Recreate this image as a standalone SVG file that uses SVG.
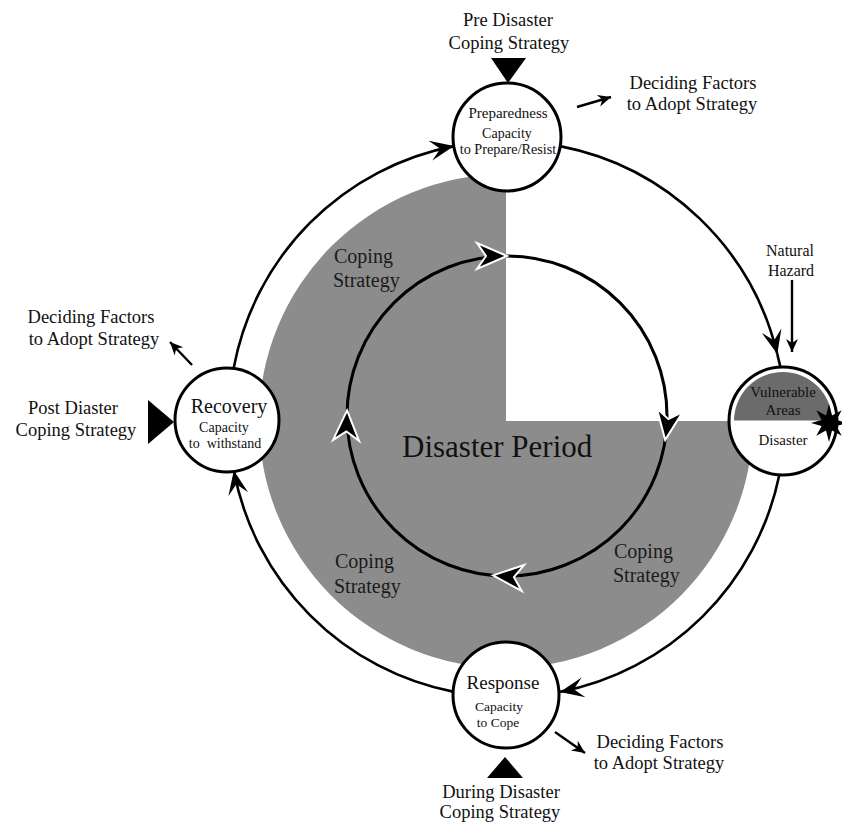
<svg xmlns="http://www.w3.org/2000/svg" xmlns:xlink="http://www.w3.org/1999/xlink" width="842" height="824" viewBox="0 0 842 824">
<style>
  text { font-family: "Liberation Serif", "Times New Roman", serif; fill: #111; }
  .lbl { font-size: 18.5px; text-anchor: middle; }
  .cope { font-size: 20px; fill: #1a1a1a; }
  .ring { fill: none; stroke: #000; stroke-width: 2.6; }
  .thin { fill: none; stroke: #000; stroke-width: 2.4; }
  .node { fill: #fff; stroke: #000; stroke-width: 3; }
  .tri { fill: #000; }
  .mid { text-anchor: middle; }
</style>
<defs>
  <marker id="big" markerUnits="userSpaceOnUse" viewBox="-26 -12 28 24" refX="0" refY="0" markerWidth="28" markerHeight="24" orient="auto" overflow="visible">
    <path d="M0,0 L-24,-10 L-14,0 L-24,10 Z" fill="#000"/>
  </marker>
  <marker id="small" markerUnits="userSpaceOnUse" viewBox="-14 -7 16 14" refX="0" refY="0" markerWidth="16" markerHeight="14" orient="auto" overflow="visible">
    <path d="M0,0 L-13,-6 L-9,0 L-13,6 Z" fill="#000"/>
  </marker>
  <path id="ia" d="M0,0 L-30,-13 L-21,0 L-30,13 Z" fill="#000" stroke="#fff" stroke-width="2" stroke-linejoin="miter"/>
</defs>

<!-- shaded disaster period region -->
<path id="period-shade" d="M506,421 L506,174 A247,247 0 1,0 753,421 Z" fill="#8c8c8c"/>

<g id="connectors">
  <path class="ring" d="M560,146.1 A278,278 0 0,1 777.3,354.1" marker-end="url(#big)"/>
  <path class="ring" d="M777.3,354.1 L780.5,367.5"/>
  <path class="ring" d="M779.3,474.9 A278,278 0 0,1 560,691.9" marker-end="url(#big)"/>
  <path class="ring" d="M454,691.9 A278,278 0 0,1 233.8,470.6" marker-end="url(#big)"/>
  <path class="ring" d="M233.8,367.4 A278,278 0 0,1 454,146.1" marker-end="url(#big)"/>
  <!-- natural hazard arrow -->
  <path class="thin" d="M792,280 L792,352" marker-end="url(#small)"/>
  <!-- deciding factor arrows -->
  <path class="thin" d="M577,107 L611,97" marker-end="url(#small)"/>
  <path class="thin" d="M192,365 L170,342" marker-end="url(#small)"/>
  <path class="thin" d="M555,732 L585,753" marker-end="url(#small)"/>
  <!-- inner coping strategy cycle -->
  <circle cx="507" cy="416" r="160" fill="none" stroke="#000" stroke-width="3"/>
  <use xlink:href="#ia" href="#ia" transform="translate(507,256) rotate(0)"/>
  <use xlink:href="#ia" href="#ia" transform="translate(665.2,439.9) rotate(98.6)"/>
  <use xlink:href="#ia" href="#ia" transform="translate(493,575.4) rotate(185)"/>
  <use xlink:href="#ia" href="#ia" transform="translate(347.1,410.4) rotate(272)"/>
</g>

<g id="node-preparedness">
  <circle class="node" cx="507" cy="137" r="54"/>
  <text class="mid" x="508" y="118" font-size="15">Preparedness</text>
  <text class="mid" x="507" y="138" font-size="14">Capacity</text>
  <text class="mid" x="508" y="154" font-size="14.2">to Prepare/Resist</text>
</g>

<g id="node-disaster">
  <circle class="node" cx="783" cy="421" r="54"/>
  <path d="M734,421 A49,49 0 0,1 832,421 Z" fill="#6b6b6b"/>
  <line x1="731" y1="421" x2="835" y2="421" stroke="#fff" stroke-width="1"/>
  <text class="mid" x="783" y="397" font-size="15">Vulnerable</text>
  <text class="mid" x="783" y="415" font-size="15">Areas</text>
  <text class="mid" x="783" y="445" font-size="15">Disaster</text>
  <polygon fill="#000" points="829,404 832,415.6 841.7,410.3 836.4,420 848,423 836.4,426 841.7,435.7 832,430.4 829,442 826,430.4 816.3,435.7 821.6,426 811,423 821.6,420 816.3,410.3 826,415.6"/>
</g>

<g id="node-response">
  <circle class="node" cx="506" cy="695" r="53"/>
  <text class="mid" x="503" y="689" font-size="19">Response</text>
  <text class="mid" x="499" y="711" font-size="13.5">Capacity</text>
  <text class="mid" x="498" y="727" font-size="13.5">to Cope</text>
</g>

<g id="node-recovery">
  <circle class="node" cx="227" cy="420" r="52"/>
  <text class="mid" x="229" y="413" font-size="20">Recovery</text>
  <text class="mid" x="224" y="432" font-size="14">Capacity</text>
  <text class="mid" x="225" y="448" font-size="14" xml:space="preserve">to  withstand</text>
</g>

<g id="strategy-markers">
  <polygon class="tri" points="491,58 526,58 508,83"/>
  <polygon class="tri" points="148,400 148,444 174,422"/>
  <polygon class="tri" points="505,757 523,778 487,778"/>
</g>

<g id="labels">
  <text class="lbl" x="508" y="26">Pre Disaster</text>
  <text class="lbl" x="509" y="49">Coping Strategy</text>
  <text class="lbl" x="693" y="89">Deciding Factors</text>
  <text class="lbl" x="692" y="110">to Adopt Strategy</text>
  <text class="mid" x="790" y="256" font-size="16">Natural</text>
  <text class="mid" x="791" y="276" font-size="16">Hazard</text>
  <text class="lbl" x="91" y="323">Deciding Factors</text>
  <text class="lbl" x="94" y="345">to Adopt Strategy</text>
  <text class="lbl" x="73" y="414">Post Diaster</text>
  <text class="lbl" x="76" y="436">Coping Strategy</text>
  <text class="lbl" x="660" y="748">Deciding Factors</text>
  <text class="lbl" x="659" y="769">to Adopt Strategy</text>
  <text class="lbl" x="501" y="798">During Disaster</text>
  <text class="lbl" x="500" y="818">Coping Strategy</text>
  <text class="cope" x="334" y="263">Coping</text>
  <text class="cope" x="333" y="287">Strategy</text>
  <text class="cope" x="335" y="568">Coping</text>
  <text class="cope" x="334" y="593">Strategy</text>
  <text class="cope" x="614" y="558">Coping</text>
  <text class="cope" x="613" y="582">Strategy</text>
  <text x="402" y="457" font-size="31" fill="#1a1a1a">Disaster Period</text>
</g>
</svg>
